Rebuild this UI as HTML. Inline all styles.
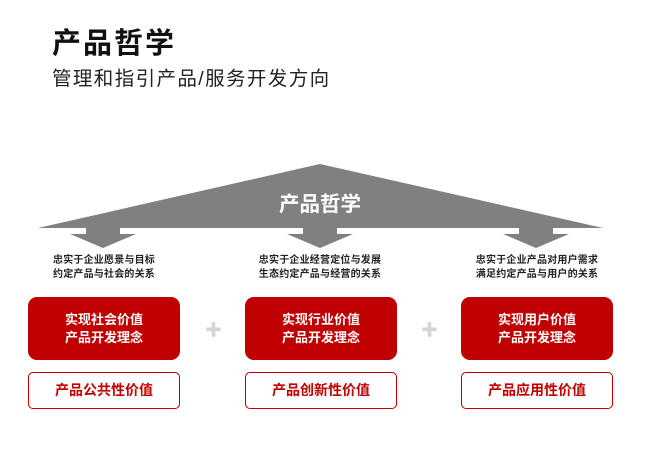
<!DOCTYPE html>
<html><head><meta charset="utf-8"><style>
body{margin:0;width:657px;height:462px;background:#fff;position:relative;overflow:hidden;font-family:"Liberation Sans","Noto Sans CJK SC",sans-serif}
.a{position:absolute}
.t{font-size:10px;font-weight:bold;color:#222;line-height:14px;text-align:center;width:180px;letter-spacing:0.2px}
.r{background:#c00000;border-radius:9px;color:#fff;font-weight:bold;font-size:13px;line-height:18px;text-align:center;width:152px;height:63px;display:flex;align-items:center;justify-content:center;top:297px}
.o{border:1px solid #c00000;border-radius:5px;color:#c00000;font-weight:bold;font-size:14px;text-align:center;width:150px;height:35px;line-height:35px;top:372px}
.p{color:#d4d4d4;font-size:17px;font-weight:bold;top:316px}
</style></head><body>
<div class="a" style="left:52px;top:20px;font-size:29px;font-weight:bold;color:#111;letter-spacing:2px">产品哲学</div>
<div class="a" style="left:52px;top:62px;font-size:19.5px;color:#222;letter-spacing:1.4px">管理和指引产品/服务开发方向</div>
<svg class="a" style="left:0;top:0" width="657" height="462">
<polygon points="320,164 38,228 603,228" fill="#808080"/>
<g fill="#808080">
<polygon points="86,226 120,226 120,234 136,234 103,248 70,234 86,234"/>
<polygon points="303,226 337,226 337,234 353,234 320,248 287,234 303,234"/>
<polygon points="519,226 553,226 553,234 569,234 536,248 503,234 519,234"/>
</g>
<text x="320" y="211" text-anchor="middle" font-size="20.5" font-weight="bold" fill="#fff" font-family="Liberation Sans,Noto Sans CJK SC,sans-serif">产品哲学</text>
</svg>
<div class="a t" style="left:14px;top:254px">忠实于企业愿景与目标<br>约定产品与社会的关系</div>
<div class="a t" style="left:230px;top:254px">忠实于企业经营定位与发展<br>生态约定产品与经营的关系</div>
<div class="a t" style="left:447px;top:254px">忠实于企业产品对用户需求<br>满足约定产品与用户的关系</div>
<div class="a r" style="left:28px">实现社会价值<br>产品开发理念</div>
<div class="a r" style="left:245px">实现行业价值<br>产品开发理念</div>
<div class="a r" style="left:461px">实现用户价值<br>产品开发理念</div>
<div class="a p" style="left:205px">✚</div>
<div class="a p" style="left:421px">✚</div>
<div class="a o" style="left:28px">产品公共性价值</div>
<div class="a o" style="left:245px">产品创新性价值</div>
<div class="a o" style="left:461px">产品应用性价值</div>
</body></html>
